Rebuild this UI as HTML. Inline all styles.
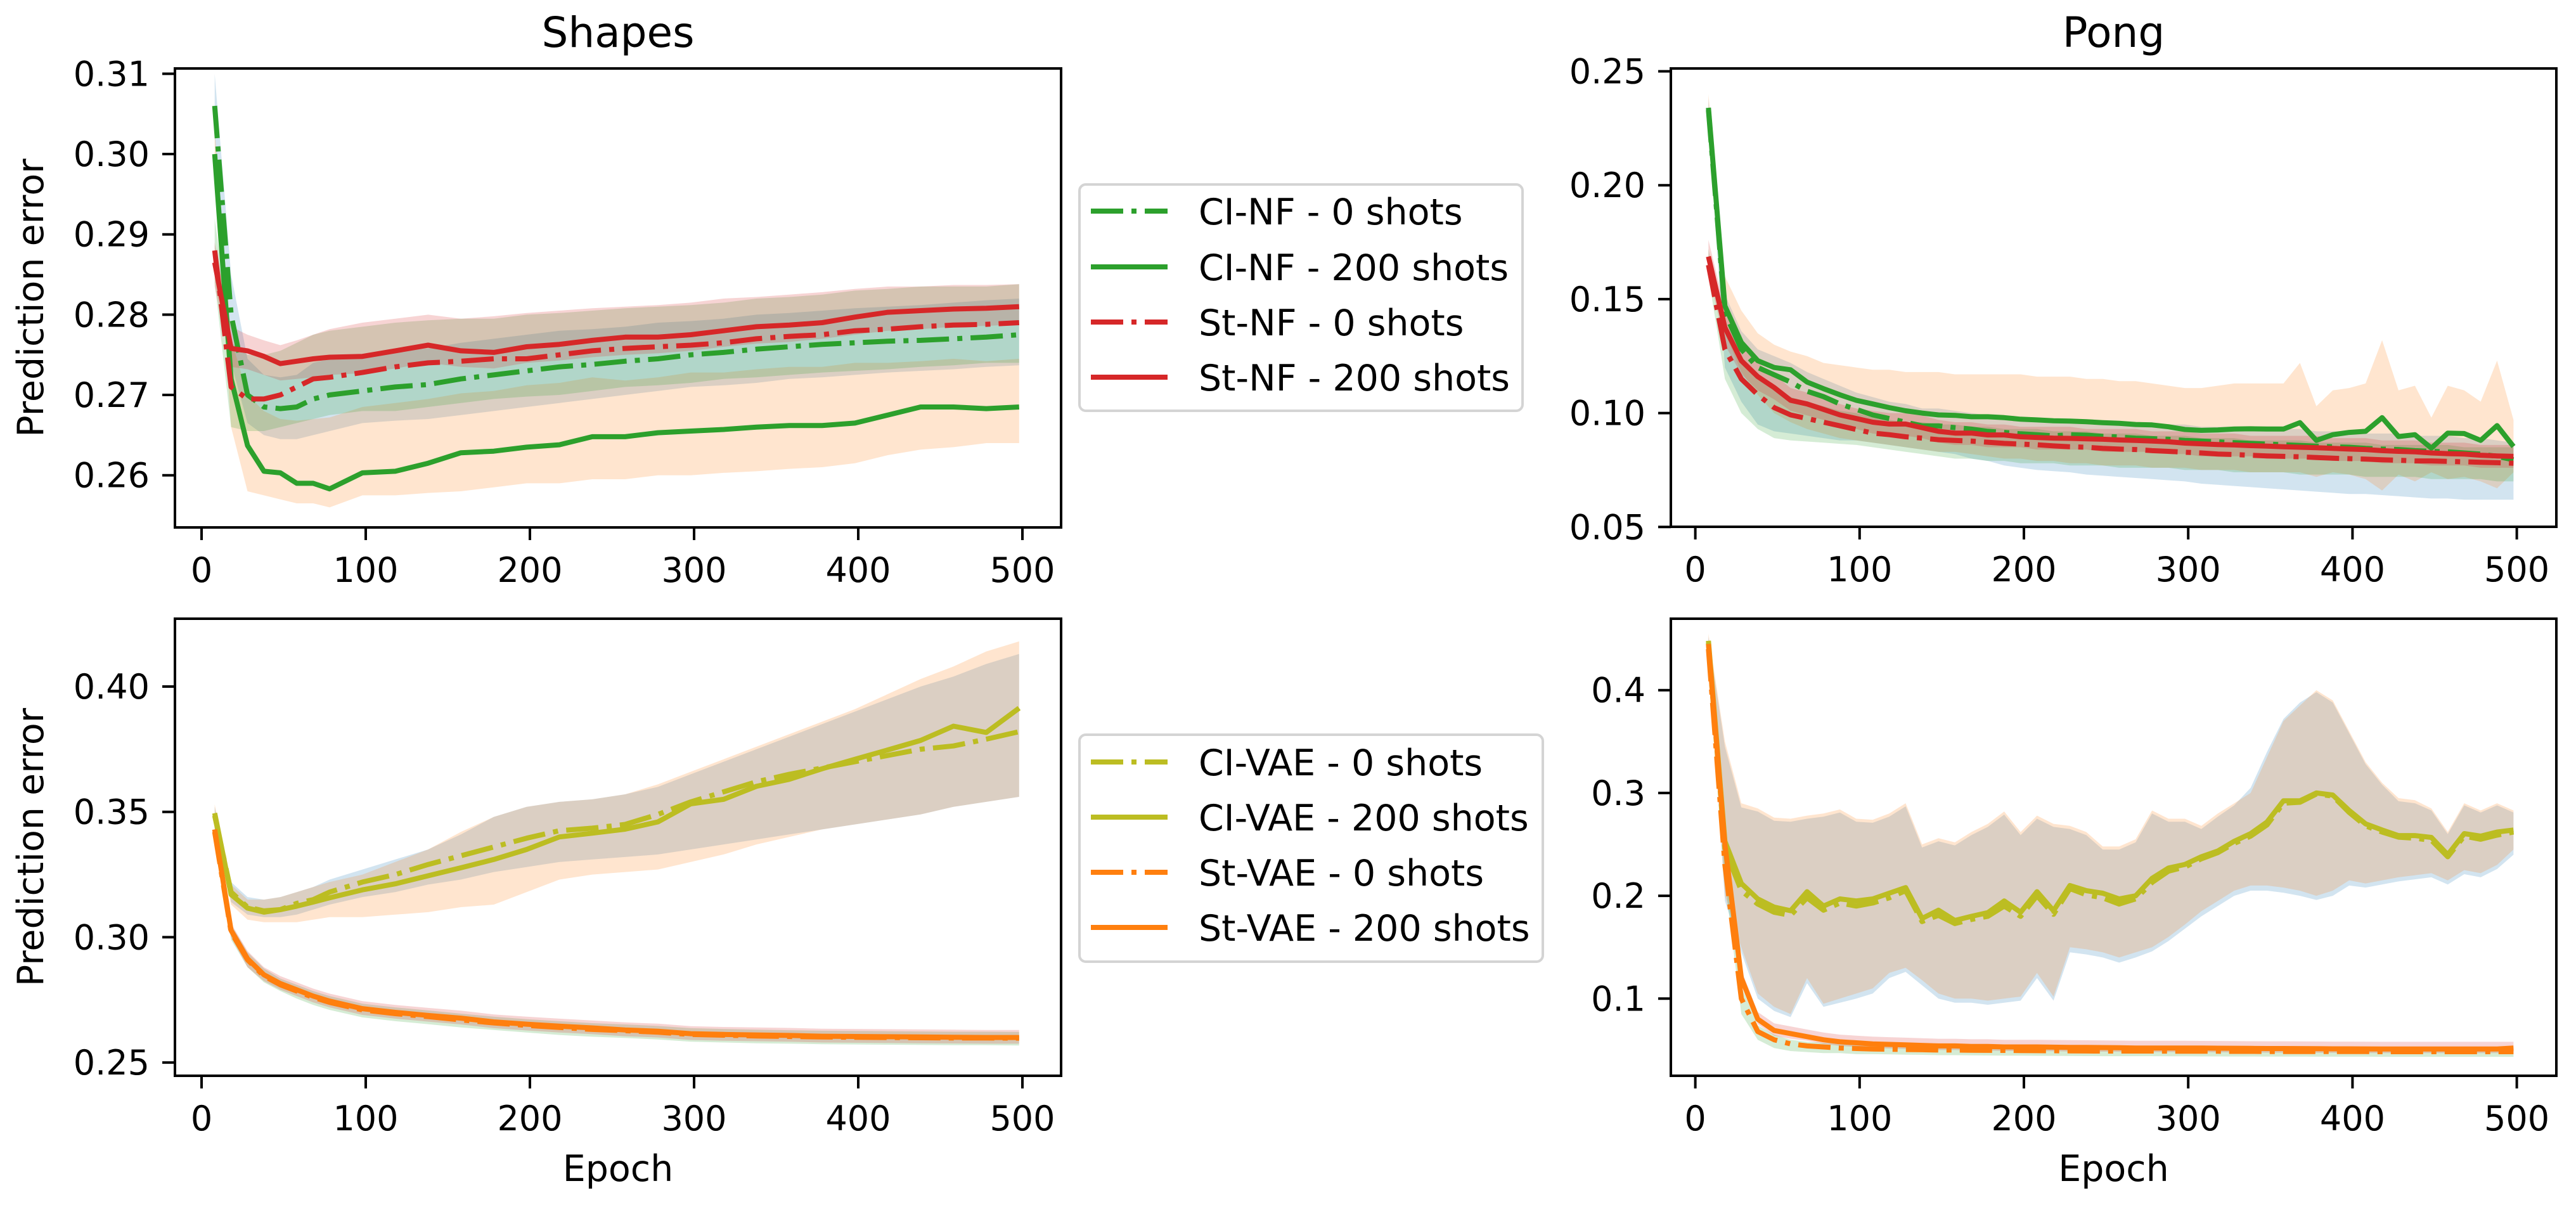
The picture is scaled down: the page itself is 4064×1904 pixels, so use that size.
<!DOCTYPE html>
<html><head><meta charset="utf-8"><style>
html,body{margin:0;padding:0;background:#fff;}
svg{display:block;font-family:"DejaVu Sans","Liberation Sans",sans-serif;}
</style></head><body>
<svg id="fig" width="4064" height="1904" viewBox="0 0 4064 1904" xmlns="http://www.w3.org/2000/svg"></svg>
<script>
// ---------- data ----------
const epochsA = [8,18,28,38,48,58,68,78,98,118,138,158,178,198,218,238,258,278,298,318,338,358,378,398,418,438,458,478,498];
const epochsB = [8,18,28,38,48,58,68,78,88,98,108,118,128,138,148,158,168,178,188,198,208,218,228,238,248,258,268,278,288,298,308,318,328,338,348,358,368,378,388,398,408,418,428,438,448,458,468,478,488,498];
const seriesNames = ["CI-NF - 0 shots","CI-NF - 200 shots","St-NF - 0 shots","St-NF - 200 shots"];
const seriesNamesVAE = ["CI-VAE - 0 shots","CI-VAE - 200 shots","St-VAE - 0 shots","St-VAE - 200 shots"];
const ticksTL = [0.26,0.27,0.28,0.29,0.30,0.31];
const ticksTR = [0.05,0.10,0.15,0.20,0.25];
const ticksBL = [0.25,0.30,0.35,0.40];
const ticksBR = [0.1,0.2,0.3,0.4];
const xTicks = [0,100,200,300,400,500];

// Shapes NF (epochsA)
const tlCi0 = [.306,.28,.270,.2685,.2683,.2685,.2695,.270,.2705,.271,.2713,.272,.2725,.273,.2735,.2738,.2742,.2745,.275,.2753,.2757,.276,.2763,.2765,.2767,.2768,.277,.2772,.2775];
const tlCi0Lo = [.302,.274,.2665,.265,.2645,.2645,.265,.2655,.2665,.2668,.267,.2675,.268,.2685,.269,.2695,.270,.2705,.271,.2712,.2715,.272,.2722,.2725,.2728,.273,.2732,.2735,.2737];
const tlCi0Hi = [.310,.285,.2745,.2725,.2722,.2725,.274,.2745,.275,.2755,.2758,.2765,.277,.2775,.278,.2782,.2785,.279,.2792,.2795,.280,.2802,.2805,.2808,.281,.2812,.2815,.2818,.282];
const tlCi200 = [.300,.272,.2637,.2605,.2603,.259,.259,.2583,.2603,.2605,.2615,.2628,.263,.2635,.2638,.2648,.2648,.2653,.2655,.2657,.266,.2662,.2662,.2665,.2675,.2685,.2685,.2683,.2685];
const tlCi200Lo = [.297,.266,.258,.2575,.257,.2565,.2565,.256,.2575,.2575,.2578,.258,.2585,.259,.259,.2595,.2595,.260,.260,.2603,.2605,.2608,.261,.2615,.2625,.2632,.2635,.264,.264];
const tlCi200Hi = [.303,.277,.270,.268,.267,.2668,.267,.2672,.2685,.269,.2695,.2702,.2705,.2712,.2715,.2722,.2718,.2722,.2728,.2728,.2732,.2735,.2735,.274,.274,.2742,.2745,.2742,.2745];
const tlSt0 = [.288,.271,.2695,.2695,.270,.271,.272,.2722,.2728,.2735,.274,.2742,.2745,.2745,.275,.2755,.2758,.276,.2762,.2765,.277,.2773,.2775,.278,.2782,.2785,.2787,.2788,.279];
const tlSt0Lo = [.284,.266,.2655,.2655,.266,.2665,.267,.2675,.268,.268,.2685,.269,.2695,.2698,.270,.2705,.271,.2712,.2715,.272,.2722,.2725,.2728,.273,.2732,.2735,.2737,.274,.274];
const tlSt0Hi = [.292,.2765,.275,.275,.2755,.2765,.2775,.278,.2785,.279,.2793,.2795,.2795,.280,.2802,.2805,.2808,.281,.2812,.2815,.282,.2822,.2825,.283,.2832,.2835,.2835,.2835,.2838];
const tlSt200 = [.2865,.2758,.2755,.2748,.2739,.2742,.2745,.2747,.2748,.2755,.2762,.2755,.2753,.276,.2763,.2768,.2772,.2772,.2775,.278,.2785,.2787,.279,.2797,.2803,.2805,.2807,.2808,.281];
const tlSt200Lo = [.2835,.2735,.2732,.2725,.2718,.272,.2722,.2725,.2727,.2733,.274,.2735,.2733,.274,.2743,.2747,.275,.2752,.2755,.276,.2764,.2766,.277,.2775,.278,.2782,.2785,.2786,.2788];
const tlSt200Hi = [.289,.2785,.2775,.2768,.2762,.2768,.2775,.2782,.279,.2795,.280,.2795,.2798,.2802,.2805,.2808,.281,.2812,.2815,.282,.2822,.2825,.2828,.2832,.2835,.2835,.2837,.2837,.2838];

// Pong NF (epochsB)
const trCi0 = [.233,.144,.128,.120,.1168,.1136,.1096,.1072,.104,.1016,.0992,.0976,.096,.0944,.0944,.0936,.093,.092,.0915,.0909,.0905,.090,.0905,.0903,.0898,.0895,.089,.0888,.0885,.088,.0877,.0874,.087,.0867,.0864,.0861,.0858,.0855,.0852,.085,.0845,.0842,.084,.0835,.0832,.083,.0825,.082,.081,.0795];
const trCi0Lo = [.228,.12,.105,.095,.092,.091,.090,.089,.088,.088,.087,.086,.085,.084,.083,.082,.080,.079,.077,.076,.075,.0745,.074,.073,.0725,.072,.0715,.071,.0705,.070,.069,.0685,.068,.0675,.067,.0665,.066,.0655,.065,.0645,.0645,.064,.0635,.063,.0625,.0625,.062,.062,.062,.062];
const trCi0Hi = [.238,.152,.136,.128,.125,.122,.118,.115,.112,.109,.107,.105,.104,.102,.102,.101,.100,.099,.099,.098,.098,.097,.097,.097,.096,.096,.096,.095,.095,.095,.094,.094,.094,.093,.093,.093,.093,.092,.092,.092,.091,.091,.091,.090,.090,.090,.089,.089,.088,.087];
const trCi200 = [.234,.147,.131,.123,.120,.119,.1136,.1107,.108,.1056,.104,.1024,.101,.100,.0992,.099,.0984,.0984,.098,.0973,.097,.0966,.0965,.0962,.0958,.0955,.095,.0948,.094,.0928,.0924,.0926,.093,.0931,.093,.093,.0958,.088,.0905,.0915,.092,.098,.0897,.0905,.0846,.0912,.091,.088,.0945,.0853];
const trCi200Lo = [.228,.135,.118,.108,.100,.096,.093,.091,.089,.088,.087,.086,.085,.084,.083,.083,.082,.081,.080,.080,.079,.079,.078,.078,.077,.077,.077,.076,.076,.076,.075,.075,.075,.074,.074,.074,.074,.072,.074,.073,.071,.066,.073,.070,.074,.071,.072,.070,.067,.074];
const trCi200Hi = [.240,.160,.145,.135,.130,.127,.125,.122,.121,.120,.119,.119,.118,.118,.118,.117,.117,.117,.117,.117,.116,.116,.116,.115,.115,.114,.114,.113,.112,.111,.111,.112,.113,.113,.113,.113,.122,.103,.110,.111,.113,.132,.110,.112,.098,.112,.110,.105,.123,.097];
const trSt0 = [.165,.128,.115,.108,.1024,.0992,.0976,.096,.0944,.0928,.0912,.0905,.0896,.089,.0883,.088,.0877,.0872,.0867,.0864,.0861,.0856,.0852,.085,.0845,.0842,.084,.0835,.0832,.0828,.0825,.082,.0818,.0815,.0812,.081,.0808,.0805,.0802,.080,.0798,.0795,.0793,.079,.079,.0788,.0786,.0784,.0782,.078];
const trSt0Lo = [.160,.115,.100,.093,.089,.088,.0875,.087,.0865,.086,.085,.084,.083,.082,.081,.080,.080,.079,.079,.078,.078,.078,.077,.077,.077,.076,.076,.076,.076,.075,.075,.075,.074,.074,.074,.074,.073,.073,.073,.073,.072,.072,.072,.072,.071,.071,.071,.071,.070,.070];
const trSt0Hi = [.172,.138,.124,.116,.110,.107,.105,.103,.101,.100,.098,.097,.096,.096,.095,.095,.094,.094,.093,.093,.093,.092,.092,.092,.091,.091,.091,.090,.090,.090,.089,.089,.089,.088,.088,.088,.088,.087,.087,.087,.087,.086,.086,.086,.086,.086,.085,.085,.085,.085];
const trSt200 = [.1687,.1375,.123,.116,.1112,.1056,.104,.1016,.0992,.0976,.096,.0952,.0952,.0936,.092,.0912,.0912,.0904,.0904,.0896,.0893,.089,.0889,.0887,.0885,.0882,.088,.0877,.0874,.0868,.0865,.0862,.086,.0857,.0855,.0852,.085,.0848,.0845,.0842,.084,.0835,.0832,.083,.0825,.0822,.082,.0815,.0812,.081];
const trSt200Lo = [.162,.130,.117,.110,.106,.101,.099,.097,.094,.093,.091,.090,.090,.089,.087,.086,.086,.085,.085,.085,.084,.084,.084,.084,.083,.083,.083,.083,.082,.082,.081,.081,.081,.081,.080,.080,.080,.080,.079,.079,.079,.078,.078,.078,.077,.077,.077,.076,.076,.076];
const trSt200Hi = [.176,.146,.130,.122,.117,.111,.109,.106,.104,.102,.101,.100,.100,.099,.097,.096,.096,.095,.095,.094,.094,.094,.094,.093,.093,.093,.093,.092,.092,.092,.091,.091,.091,.090,.090,.090,.090,.090,.089,.089,.089,.088,.088,.088,.087,.087,.087,.086,.086,.086];

// Shapes VAE (epochsA)
const blCi0 = [.3485,.318,.312,.3105,.311,.3135,.315,.318,.322,.325,.329,.3325,.336,.3395,.3425,.3435,.345,.349,.354,.358,.362,.365,.3675,.370,.3725,.375,.3763,.379,.382];
const blCi0Lo = [.345,.314,.309,.308,.308,.309,.311,.313,.316,.318,.321,.323,.326,.328,.330,.331,.332,.333,.335,.337,.339,.341,.343,.345,.347,.349,.352,.354,.356];
const blCi0Hi = [.352,.322,.316,.315,.316,.318,.320,.323,.327,.331,.335,.341,.348,.352,.354,.355,.357,.360,.365,.370,.375,.380,.385,.390,.395,.400,.404,.409,.413];
const blCi200 = [.3495,.317,.3116,.310,.311,.3124,.314,.3157,.3189,.3213,.3245,.3277,.331,.335,.340,.3415,.3431,.346,.3532,.355,.3602,.363,.3672,.371,.3747,.3785,.3842,.3817,.3914];
const blCi200Lo = [.346,.313,.307,.306,.306,.306,.307,.308,.308,.309,.310,.312,.313,.318,.323,.325,.326,.327,.330,.333,.337,.340,.343,.345,.347,.349,.352,.354,.356];
const blCi200Hi = [.353,.321,.315,.315,.316,.318,.320,.322,.325,.330,.335,.342,.348,.352,.354,.355,.357,.361,.366,.371,.376,.381,.386,.391,.397,.403,.408,.414,.418];
const blSt0 = [.342,.302,.291,.2845,.281,.2785,.276,.274,.271,.2695,.2683,.267,.2658,.2648,.264,.2632,.2627,.2621,.2612,.2609,.2606,.2604,.2602,.2601,.26,.2599,.2598,.2598,.2597];
const blSt0Lo = [.339,.299,.288,.282,.2785,.2755,.273,.271,.268,.2665,.2653,.264,.263,.262,.261,.2603,.2598,.2592,.2583,.258,.2577,.2575,.2573,.2572,.2571,.257,.2569,.2569,.2568];
const blSt0Hi = [.345,.305,.294,.2875,.2835,.281,.2785,.2765,.2735,.272,.2708,.2695,.2683,.2673,.2665,.2657,.2652,.2646,.2637,.2634,.2631,.2629,.2627,.2626,.2625,.2624,.2623,.2623,.2622];
const blSt200 = [.343,.3027,.2914,.285,.2815,.279,.2765,.2745,.2715,.270,.2688,.2677,.2662,.2653,.2645,.2638,.263,.2625,.2615,.2612,.261,.2608,.2605,.2604,.2603,.2602,.2601,.260,.260];
const blSt200Lo = [.340,.300,.288,.2825,.279,.2765,.274,.272,.269,.2675,.2663,.2652,.2637,.2628,.262,.2613,.2605,.260,.259,.2587,.2585,.2583,.258,.2579,.2578,.2577,.2576,.2575,.2575];
const blSt200Hi = [.346,.3055,.2945,.288,.2845,.282,.2795,.2775,.2745,.273,.2718,.2707,.2692,.2683,.2675,.2668,.266,.2655,.2645,.2642,.264,.2638,.2635,.2634,.2633,.2632,.2631,.263,.263];

// Pong VAE (epochsB)
const brCi0 = [.446,.245,.205,.192,.184,.181,.198,.186,.193,.190,.193,.198,.205,.175,.181,.173,.177,.180,.190,.180,.200,.182,.207,.201,.198,.192,.197,.213,.224,.228,.236,.242,.251,.258,.269,.290,.291,.299,.297,.281,.268,.262,.257,.256,.254,.238,.258,.255,.259,.262];
const brCi0Lo = [.438,.195,.145,.100,.088,.082,.115,.092,.096,.100,.105,.120,.126,.113,.100,.096,.096,.094,.096,.098,.120,.098,.145,.143,.140,.135,.140,.146,.156,.168,.180,.190,.200,.205,.205,.203,.200,.196,.200,.210,.208,.211,.214,.216,.218,.211,.221,.218,.226,.240];
const brCi0Hi = [.452,.345,.286,.282,.273,.272,.275,.277,.281,.272,.271,.277,.287,.247,.253,.249,.259,.267,.279,.259,.275,.267,.265,.259,.245,.245,.252,.280,.272,.272,.265,.277,.288,.305,.340,.372,.388,.398,.388,.358,.328,.308,.292,.290,.283,.260,.288,.281,.288,.281];
const brCi200 = [.448,.253,.212,.197,.189,.1855,.204,.19,.197,.195,.197,.2025,.208,.178,.186,.176,.180,.1836,.195,.184,.204,.1855,.210,.205,.2025,.197,.200,.217,.227,.2305,.238,.2436,.253,.2605,.2718,.2924,.2924,.300,.298,.283,.270,.264,.2586,.2586,.2568,.240,.2605,.258,.262,.264];
const brCi200Lo = [.440,.200,.150,.105,.092,.085,.120,.095,.100,.105,.110,.125,.130,.118,.105,.100,.100,.098,.100,.102,.125,.102,.150,.148,.145,.140,.145,.150,.160,.172,.185,.195,.205,.210,.210,.208,.205,.200,.205,.215,.212,.215,.218,.220,.222,.215,.225,.222,.230,.245];
const brCi200Hi = [.455,.350,.290,.285,.276,.275,.278,.280,.284,.275,.274,.280,.290,.250,.256,.252,.262,.270,.282,.262,.278,.270,.268,.262,.248,.248,.255,.283,.275,.275,.268,.280,.290,.300,.335,.370,.385,.400,.390,.360,.330,.310,.295,.293,.285,.262,.290,.283,.290,.283];
const brSt0 = [.44,.23,.10,.068,.06,.056,.054,.053,.052,.0515,.051,.0508,.0505,.0503,.050,.050,.0498,.0497,.0496,.0495,.0494,.0493,.0492,.0491,.049,.049,.049,.049,.0489,.0489,.0488,.0488,.0487,.0487,.0486,.0486,.0486,.0485,.0485,.0485,.0485,.0484,.0484,.0484,.0484,.0484,.0484,.0484,.0484,.0484];
const brSt0Lo = [.435,.215,.085,.060,.052,.049,.048,.047,.047,.046,.046,.0458,.0455,.0453,.045,.045,.0448,.0447,.0446,.0445,.0444,.0443,.0442,.0441,.044,.044,.044,.044,.0439,.0439,.0438,.0438,.0437,.0437,.0436,.0436,.0436,.0435,.0435,.0435,.0435,.0434,.0434,.0434,.0434,.0434,.0434,.0434,.0434,.0434];
const brSt0Hi = [.445,.245,.112,.074,.065,.060,.058,.057,.056,.0555,.055,.0548,.0545,.0543,.054,.054,.0538,.0537,.0536,.0535,.0534,.0533,.0532,.0531,.053,.053,.053,.053,.0529,.0529,.0528,.0528,.0527,.0527,.0526,.0526,.0526,.0525,.0525,.0525,.0525,.0524,.0524,.0524,.0524,.0524,.0524,.0524,.0524,.0524];
const brSt200 = [.445,.25,.12,.08,.069,.066,.063,.06,.058,.057,.056,.0555,.055,.0545,.054,.054,.0535,.0535,.053,.053,.053,.0528,.0526,.0525,.0524,.0522,.052,.052,.052,.052,.0519,.0518,.0517,.0516,.0515,.0515,.0514,.0513,.0512,.0512,.0511,.051,.051,.051,.051,.051,.051,.051,.051,.052];
const brSt200Lo = [.441,.244,.114,.075,.064,.061,.059,.056,.054,.053,.052,.0515,.051,.0505,.050,.050,.0495,.0495,.049,.049,.049,.0488,.0486,.0485,.0484,.0482,.048,.048,.048,.048,.0479,.0478,.0477,.0476,.0475,.0475,.0474,.0473,.0472,.0472,.0471,.047,.047,.047,.047,.047,.047,.047,.047,.048];
const brSt200Hi = [.449,.258,.128,.087,.076,.073,.070,.067,.065,.064,.063,.0625,.062,.0615,.061,.061,.0605,.0605,.060,.060,.060,.0598,.0596,.0595,.0594,.0592,.059,.059,.059,.059,.0589,.0588,.0587,.0586,.0585,.0585,.0584,.0583,.0582,.0582,.0581,.058,.058,.058,.058,.058,.058,.058,.058,.058];

// ---------- rendering ----------
const NS = "http://www.w3.org/2000/svg";
const svg = document.getElementById("fig");
function mk(tag, attrs, parent) {
  const e = document.createElementNS(NS, tag);
  for (const k in attrs) e.setAttribute(k, attrs[k]);
  (parent || svg).appendChild(e);
  return e;
}
const C = {blue:"#1f77b4", orange:"#ff7f0e", green:"#2ca02c", red:"#d62728", olive:"#bcbd22"};
const DASHDOT = "51 13 8 13";

const panels = [
  {key:"shapes-nf", L:276, R:1674, T:108, B:832, x0:318, kx:2.59, yRef:0.31, yRefPx:116.4, ky:12666,
   ticks:ticksTL, fmt:2, epochs:epochsA, title:"Shapes", ylabel:true, xlabel:false,
   series:[
    {name:seriesNames[0], color:C.green, dash:true, v:tlCi0, lo:tlCi0Lo, hi:tlCi0Hi, band:C.blue},
    {name:seriesNames[1], color:C.green, dash:false, v:tlCi200, lo:tlCi200Lo, hi:tlCi200Hi, band:C.orange},
    {name:seriesNames[2], color:C.red, dash:true, v:tlSt0, lo:tlSt0Lo, hi:tlSt0Hi, band:C.green},
    {name:seriesNames[3], color:C.red, dash:false, v:tlSt200, lo:tlSt200Lo, hi:tlSt200Hi, band:C.red}]},
  {key:"pong-nf", L:2636, R:4033, T:108, B:831, x0:2674.6, kx:2.592, yRef:0.25, yRefPx:112.5, ky:3594,
   ticks:ticksTR, fmt:2, epochs:epochsB, title:"Pong", ylabel:false, xlabel:false,
   series:[
    {name:seriesNames[0], color:C.green, dash:true, v:trCi0, lo:trCi0Lo, hi:trCi0Hi, band:C.blue},
    {name:seriesNames[1], color:C.green, dash:false, v:trCi200, lo:trCi200Lo, hi:trCi200Hi, band:C.orange},
    {name:seriesNames[2], color:C.red, dash:true, v:trSt0, lo:trSt0Lo, hi:trSt0Hi, band:C.green},
    {name:seriesNames[3], color:C.red, dash:false, v:trSt200, lo:trSt200Lo, hi:trSt200Hi, band:C.red}]},
  {key:"shapes-vae", L:276, R:1674, T:976, B:1697, x0:318, kx:2.59, yRef:0.40, yRefPx:1083, ky:3954,
   ticks:ticksBL, fmt:2, epochs:epochsA, title:null, ylabel:true, xlabel:true,
   series:[
    {name:seriesNamesVAE[0], color:C.olive, dash:true, v:blCi0, lo:blCi0Lo, hi:blCi0Hi, band:C.blue},
    {name:seriesNamesVAE[1], color:C.olive, dash:false, v:blCi200, lo:blCi200Lo, hi:blCi200Hi, band:C.orange},
    {name:seriesNamesVAE[2], color:C.orange, dash:true, v:blSt0, lo:blSt0Lo, hi:blSt0Hi, band:C.green},
    {name:seriesNamesVAE[3], color:C.orange, dash:false, v:blSt200, lo:blSt200Lo, hi:blSt200Hi, band:C.red}]},
  {key:"pong-vae", L:2636, R:4033, T:976, B:1697, x0:2674.6, kx:2.592, yRef:0.4, yRefPx:1088.7, ky:1622,
   ticks:ticksBR, fmt:1, epochs:epochsB, title:null, ylabel:false, xlabel:true,
   series:[
    {name:seriesNamesVAE[0], color:C.olive, dash:true, v:brCi0, lo:brCi0Lo, hi:brCi0Hi, band:C.blue},
    {name:seriesNamesVAE[1], color:C.olive, dash:false, v:brCi200, lo:brCi200Lo, hi:brCi200Hi, band:C.orange},
    {name:seriesNamesVAE[2], color:C.orange, dash:true, v:brSt0, lo:brSt0Lo, hi:brSt0Hi, band:C.green},
    {name:seriesNamesVAE[3], color:C.orange, dash:false, v:brSt200, lo:brSt200Lo, hi:brSt200Hi, band:C.red}]}
];

panels.forEach((p, pi) => {
  const xs = e => p.x0 + p.kx * e;
  const ys = v => p.yRefPx + (p.yRef - v) * p.ky;
  const g = mk("g", {});
  
  
  const clipId = "clip" + pi;
  const cp = mk("clipPath", {id: clipId}, g);
  mk("rect", {x:p.L, y:p.T, width:p.R-p.L, height:p.B-p.T}, cp);
  const plot = mk("g", {"clip-path":"url(#"+clipId+")"}, g);
  // bands
  p.series.forEach((s, si) => {
    let d = "";
    p.epochs.forEach((e, i) => { d += (i ? "L" : "M") + xs(e).toFixed(1) + "," + ys(s.hi[i]).toFixed(1); });
    for (let i = p.epochs.length - 1; i >= 0; i--) d += "L" + xs(p.epochs[i]).toFixed(1) + "," + ys(s.lo[i]).toFixed(1);
    d += "Z";
    const band = mk("path", {d:d, fill:s.band, "fill-opacity":0.2, stroke:"none"}, plot);
    
    
  });
  // lines
  p.series.forEach((s, si) => {
    const pts = p.epochs.map((e, i) => xs(e).toFixed(1) + "," + ys(s.v[i]).toFixed(1)).join(" ");
    const attrs = {points:pts, fill:"none", stroke:s.color, "stroke-width":8, "stroke-linejoin":"round"};
    if (s.dash) attrs["stroke-dasharray"] = DASHDOT;
    const ln = mk("polyline", attrs, plot);
    
    
  });
  // frame
  const fr = mk("rect", {x:p.L, y:p.T, width:p.R-p.L, height:p.B-p.T, fill:"none", stroke:"#000", "stroke-width":4}, g);
  
  
  // y ticks
  p.ticks.forEach(t => {
    const y = ys(t);
    mk("line", {x1:p.L-20, x2:p.L, y1:y, y2:y, stroke:"#000", "stroke-width":4}, g);
    const tx = mk("text", {x:p.L-40, y:y+19, "text-anchor":"end", "font-size":54, fill:"#000"}, g);
    tx.textContent = t.toFixed(p.fmt);
    
    
  });
  // x ticks
  xTicks.forEach(t => {
    const x = xs(t);
    mk("line", {x1:x, x2:x, y1:p.B, y2:p.B+20, stroke:"#000", "stroke-width":4}, g);
    const tx = mk("text", {x:x, y:p.B+86, "text-anchor":"middle", "font-size":54, fill:"#000"}, g);
    tx.textContent = String(t);
    
    
  });
  const cx = (p.L + p.R) / 2;
  if (p.title) {
    const tt = mk("text", {x:cx, y:74, "text-anchor":"middle", "font-size":66, fill:"#000"}, g);
    tt.textContent = p.title;
    
    
  }
  if (p.ylabel) {
    const cy = (p.T + p.B) / 2;
    const yl = mk("text", {x:0, y:0, transform:"translate(68,"+cy+") rotate(-90)", "text-anchor":"middle", "font-size":57, fill:"#000"}, g);
    yl.textContent = "Prediction error";
    
    
  }
  if (p.xlabel) {
    const xl = mk("text", {x:cx, y:1863, "text-anchor":"middle", "font-size":57, fill:"#000"}, g);
    xl.textContent = "Epoch";
    
    
  }
});

// legends
const legends = [
  {top:291, bottom:648, right:2402, rows:[333,421,508,595], items:panels[0].series},
  {top:1159, bottom:1517, right:2434, rows:[1202,1289,1376,1463], items:panels[2].series}
];
legends.forEach((lg, li) => {
  const g = mk("g", {});
  
  
  mk("rect", {x:1703, y:lg.top, width:lg.right-1703, height:lg.bottom-lg.top, rx:10, ry:10, fill:"#fff", "fill-opacity":0.8, stroke:"#d4d4d4", "stroke-width":4}, g);
  lg.items.forEach((s, i) => {
    const y = lg.rows[i];
    const entry = mk("g", {}, g);
    
    
    const a = {x1:1721, x2:1842, y1:y, y2:y, stroke:s.color, "stroke-width":8};
    if (s.dash) a["stroke-dasharray"] = DASHDOT;
    mk("line", a, entry);
    const t = mk("text", {x:1891, y:y+21, "font-size":57, fill:"#000"}, entry);
    t.textContent = s.name;
  });
});
</script>
</body></html>
